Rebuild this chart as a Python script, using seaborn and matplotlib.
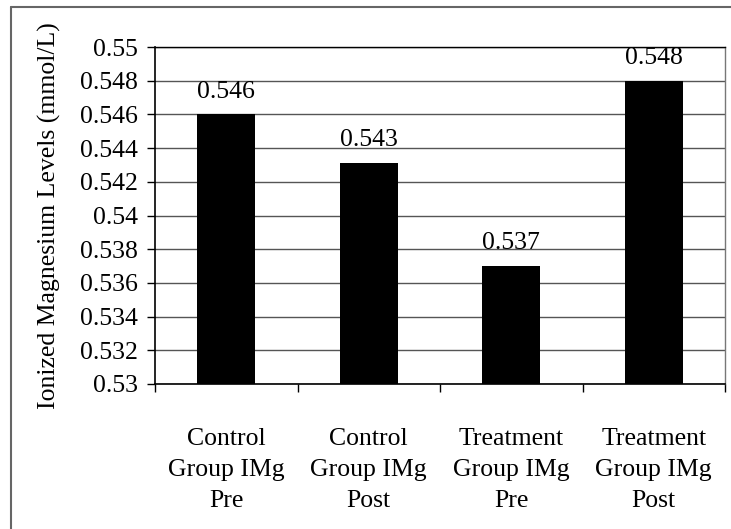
import matplotlib
matplotlib.use("Agg")
import matplotlib.pyplot as plt
import seaborn as sns
import pandas as pd
from matplotlib.lines import Line2D

categories = ["Control\nGroup IMg\nPre", "Control\nGroup IMg\nPost",
              "Treatment\nGroup IMg\nPre", "Treatment\nGroup IMg\nPost"]
values = [0.546, 0.5431, 0.537, 0.548]
value_labels = ["0.546", "0.543", "0.537", "0.548"]
ytick_values = [0.53, 0.532, 0.534, 0.536, 0.538, 0.54, 0.542, 0.544, 0.546, 0.548, 0.55]
ytick_labels = ["0.53", "0.532", "0.534", "0.536", "0.538", "0.54", "0.542", "0.544", "0.546", "0.548", "0.55"]
ylabel = "Ionized Magnesium Levels (mmol/L)"

sns.set_theme(style="white")
plt.rcParams['font.family'] = ['Liberation Serif', 'DejaVu Serif']

FS = 18.5
df = pd.DataFrame({"cat": categories, "val": values})

fig = plt.figure(figsize=(7.31, 5.29), dpi=100)
ax = fig.add_axes([155/731, 1 - 384/529, (725 - 155)/731, (384 - 47)/529])

sns.barplot(data=df, x="cat", y="val", color="black", width=0.41, ax=ax,
            saturation=1, edgecolor="black", linewidth=0, zorder=3)

ax.set_ylim(0.53, 0.55)
ax.set_xlim(-0.5, 3.5)
ax.set_yticks(ytick_values)
ax.set_yticklabels(ytick_labels, fontsize=FS, color="black")
ax.yaxis.grid(True, color="#555555", linewidth=1.0, zorder=0)
ax.set_axisbelow(True)

ax.set_xticks([0, 1, 2, 3])
ax.set_xticklabels(categories, fontsize=FS, color="black", linespacing=1.52)
ax.tick_params(axis="x", which="major", length=0, pad=32)
ax.set_xticks([-0.5, 0.5, 1.5, 2.5, 3.5], minor=True)
ax.tick_params(axis="x", which="minor", length=6, width=1, color="black", direction="out", bottom=True)
ax.tick_params(axis="y", length=6, width=1, color="black", direction="out", left=True, pad=6)

ax.set_xlabel("")
ax.set_ylabel(ylabel, fontsize=FS, color="black", labelpad=14)

for sp in ["left", "bottom"]:
    ax.spines[sp].set_color("black")
    ax.spines[sp].set_linewidth(1.2)
ax.spines["right"].set_visible(True)
ax.spines["right"].set_color("#777777")
ax.spines["right"].set_linewidth(1.0)
ax.spines["top"].set_visible(True)
ax.spines["top"].set_color("black")
ax.spines["top"].set_linewidth(1.0)

for i, (v, lab) in enumerate(zip(values, value_labels)):
    ax.annotate(lab, (i, v), xytext=(0, 8.5), textcoords="offset points",
                ha="center", va="bottom", fontsize=FS, color="black")

fig.add_artist(Line2D([10.5/731, 10.5/731], [0, 1 - 6.5/529], transform=fig.transFigure,
                      color="#666666", linewidth=1.5))
fig.add_artist(Line2D([10.5/731, 1], [1 - 6.5/529, 1 - 6.5/529], transform=fig.transFigure,
                      color="#666666", linewidth=1.5))

fig.savefig("out.png", dpi=100)
